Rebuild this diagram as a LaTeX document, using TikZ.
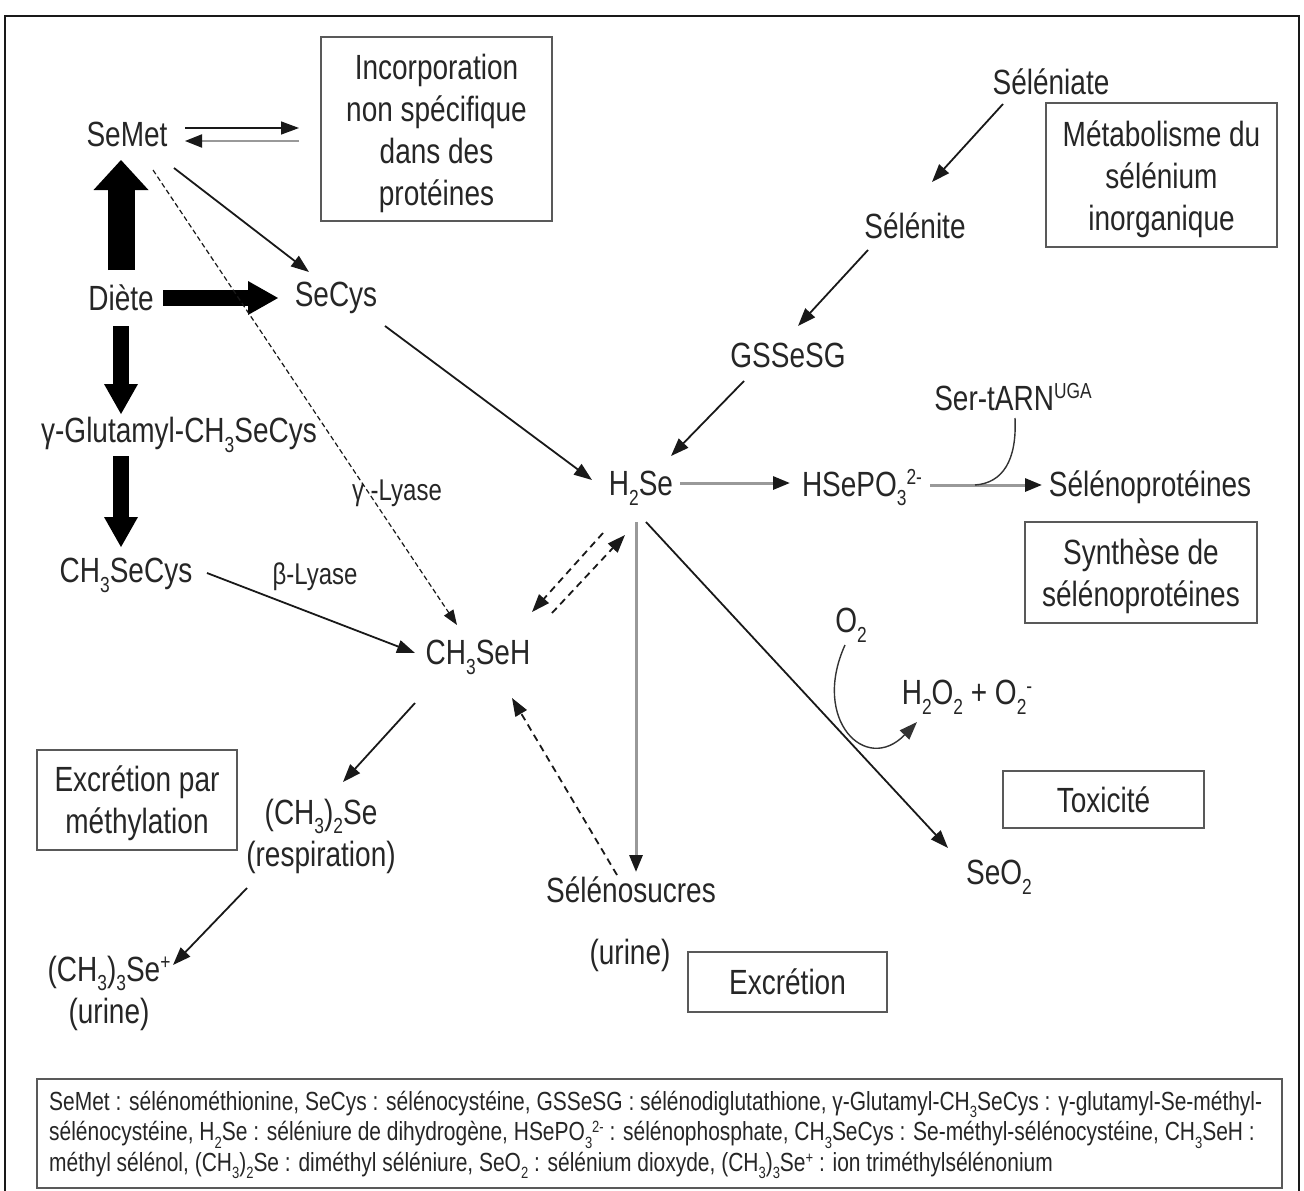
\documentclass[tikz,border=0pt]{standalone}
\usepackage{graphicx}
\usepackage{fontspec}
\setmainfont{Liberation Sans}[FakeStretch=0.8]
\usetikzlibrary{arrows.meta,calc}
\newcommand\sbx[1]{\raisebox{-0.28em}{\scalebox{0.62}{#1}}}
\newcommand\spx[1]{\raisebox{0.32em}{\scalebox{0.62}{#1}}}
\tikzset{
  txt/.style={inner sep=0pt, text=black!85},
  lab/.style={inner sep=0pt, text=black!85, font=\fontsize{30}{36}\selectfont},
  boxn/.style={draw=black!65, line width=2pt, inner sep=0pt, align=center, text=black!85},
  boxt/.style={inner sep=0pt, align=center, text=black!85},
  arr/.style={line width=1.8pt, draw=black!90, -{Triangle[length=18pt,width=13pt]}},
  garr/.style={line width=3pt, draw=black!40, -{Triangle[length=17pt,width=13pt,color=black!90]}},
  darr/.style={arr, dash pattern=on 7pt off 5pt},
  tarr/.style={line width=1.2pt, draw=black!90, dash pattern=on 5pt off 3pt, -{Triangle[length=15pt,width=11pt]}},
  bigarrA/.style={draw=black, line width=27pt, -{Triangle[length=30pt,width=55pt,line width=0pt]}},
  bigarrB/.style={draw=black, line width=16pt, -{Triangle[length=30pt,width=34pt,line width=0pt]}},
  curv/.style={line width=1.4pt, draw=black!80}
}
\begin{document}
\begin{tikzpicture}[x=1pt,y=-1pt,font=\fontsize{35}{42}\selectfont]
\useasboundingbox (0,0) rectangle (1304,1191);
\fill[white] (0,0) rectangle (1304,1191);
% outer frame
\draw[line width=2.5pt, draw=black!90] (5,1191) -- (5,16) -- (1299,16) -- (1299,1191);

% text nodes
\node[txt] (semet) at (127,134) {SeMet};
\node[txt] (diete) at (121,298) {Diète};
\node[txt] (secys) at (336,298) {SeCys};
\node[txt] (glu) at (179,435) {γ-Glutamyl-CH\sbx{3}SeCys};
\node[txt] (ch3secys) at (126,575) {CH\sbx{3}SeCys};
\node[txt] (ch3seh) at (478,657) {CH\sbx{3}SeH};
\node[txt] (seleniate) at (1051,82) {Séléniate};
\node[txt] (selenite) at (915,226) {Sélénite};
\node[txt] (gssesg) at (788,355) {GSSeSG};
\node[txt] (h2se) at (641,488) {H\sbx{2}Se};
\node[txt] (hsepo) at (862,488) {HSePO\sbx{3}\spx{2-}};
\node[txt] (sertarn) at (1013,397) {Ser-tARN\spx{UGA}};
\node[txt] (selprot) at (1150,487) {Sélénoprotéines};
\node[txt] (o2) at (851,625) {O\sbx{2}};
\node[txt] (h2o2) at (967,697) {H\sbx{2}O\sbx{2} + O\sbx{2}\spx{-}};
\node[txt] (seo2) at (999,877) {SeO\sbx{2}};
\node[txt, align=center] (dimethyl) at (321,836) {(CH\sbx{3})\sbx{2}Se\\(respiration)};
\node[txt, align=center] (trimethyl) at (109,993) {(CH\sbx{3})\sbx{3}Se\spx{+}\\(urine)};
\node[txt] (selsuc) at (631,890) {Sélénosucres};
\node[txt] (urine) at (630,955) {(urine)};
\node[lab] (glyase) at (397,493) {γ -Lyase};
\node[lab] (blyase) at (315,577) {β-Lyase};

% boxes
\node[boxn, minimum width=231pt, minimum height=184pt] (inc) at (436.5,129) {};
\node[boxt] (inctxt) at (436.5,133) {Incorporation\\non spécifique\\dans des\\protéines};
\node[boxn, minimum width=231pt, minimum height=144pt] (metab) at (1161.5,175) {};
\node[boxt] (metabtxt) at (1161.5,179) {Métabolisme du\\sélénium\\inorganique};
\node[boxn, minimum width=232pt, minimum height=101pt] (synth) at (1141,572.5) {};
\node[boxt] (synthtxt) at (1141,576) {Synthèse de\\sélénoprotéines};
\node[boxn, minimum width=201pt, minimum height=57pt] (tox) at (1103.5,799.5) {Toxicité};
\node[boxn, minimum width=200pt, minimum height=100pt] (excmeth) at (137,800) {};
\node[boxt] (excmethtxt) at (137,803) {Excrétion par\\méthylation};
\node[boxn, minimum width=199pt, minimum height=60pt] (exc) at (787.5,982) {Excrétion};
\node[boxn, minimum width=1245pt, minimum height=109pt] (legbox) at (659.5,1133.5) {};
\node[txt, anchor=west, align=left, font=\fontsize{26.2}{30.5}\selectfont] (legend) at (49,1135)
{SeMet : sélénométhionine, SeCys : sélénocystéine, GSSeSG : sélénodiglutathione, γ-Glutamyl-CH\sbx{3}SeCys : γ-glutamyl-Se-méthyl-\\
sélénocystéine, H\sbx{2}Se : séléniure de dihydrogène, HSePO\sbx{3}\spx{2-} : sélénophosphate, CH\sbx{3}SeCys : Se-méthyl-sélénocystéine, CH\sbx{3}SeH :\\
méthyl sélénol, (CH\sbx{3})\sbx{2}Se : diméthyl séléniure, SeO\sbx{2} : sélénium dioxyde, (CH\sbx{3})\sbx{3}Se\spx{+} : ion triméthylsélénonium};

% thick arrows
\draw[bigarrA] ($(diete)+(0,-28)$) -- ($(semet)+(-6,26)$);
\draw[bigarrB] ($(diete)+(42,0)$) -- ($(secys)+(-58,0)$);
\draw[bigarrB] ($(diete)+(0,28)$) -- ($(glu)+(-58,-21)$);
\draw[bigarrB] ($(glu)+(-58,21)$) -- ($(ch3secys)+(-5,-28)$);

% SeMet <-> incorporation
\draw[arr, line width=1.5pt] ($(semet)+(58,-6)$) -- ($(inc.west)+(-21,-1)$);
\draw[garr, line width=2pt] ($(inc.west)+(-21,12)$) -- ($(semet)+(58,7)$);

% organic pathway
\draw[arr] ($(semet)+(47,34)$) -- ($(secys)+(-27,-26)$);
\draw[tarr] ($(semet)+(26,36)$) -- ($(ch3seh)+(-21,-32)$);
\draw[arr] ($(secys)+(49,28)$) -- ($(h2se)+(-49,-8)$);
\draw[arr] ($(ch3secys)+(81,-2)$) -- ($(ch3seh)+(-63,-4)$);

% inorganic pathway
\draw[arr] ($(seleniate)+(-48,22)$) -- ($(selenite)+(17,-44)$);
\draw[arr] ($(selenite)+(-47,24)$) -- ($(gssesg)+(10,-29)$);
\draw[arr] ($(gssesg)+(-44,26)$) -- ($(h2se)+(30,-32)$);

% selenoprotein synthesis
\draw[garr] ($(h2se)+(39,-5)$) -- ($(hsepo)+(-72,-5)$);
\draw[garr] ($(hsepo)+(68,-3)$) -- ($(selprot)+(-108,-2)$);
\draw[curv] ($(sertarn)+(2,21)$) .. controls ($(sertarn)+(4,63)$) and ($(sertarn)+(-10,86)$) .. ($(selprot)+(-175,-2)$);

% H2Se <-> CH3SeH
\draw[darr] ($(h2se)+(-38,45)$) -- ($(ch3seh)+(54,-45)$);
\draw[darr] ($(ch3seh)+(74,-44)$) -- ($(h2se)+(-16,47)$);

% excretion / toxicity
\draw[garr] ($(h2se)+(-5,34)$) -- ($(selsuc)+(5,-18)$);
\draw[arr] ($(h2se)+(5,34)$) -- ($(seo2)+(-51,-29)$);
\draw[curv, -{Triangle[length=18pt,width=13pt]}] ($(o2)+(-6,20)$) .. controls ($(o2)+(-40,95)$) and ($(o2)+(15,150)$) .. ($(h2o2)+(-50,25)$);
\draw[darr] ($(selsuc)+(-14,-15)$) -- ($(ch3seh)+(34,41)$);

% methylation
\draw[arr] ($(ch3seh)+(-63,46)$) -- ($(dimethyl)+(22,-54)$);
\draw[arr] ($(dimethyl)+(-74,52)$) -- ($(trimethyl)+(64,-28)$);
\end{tikzpicture}
\end{document}
